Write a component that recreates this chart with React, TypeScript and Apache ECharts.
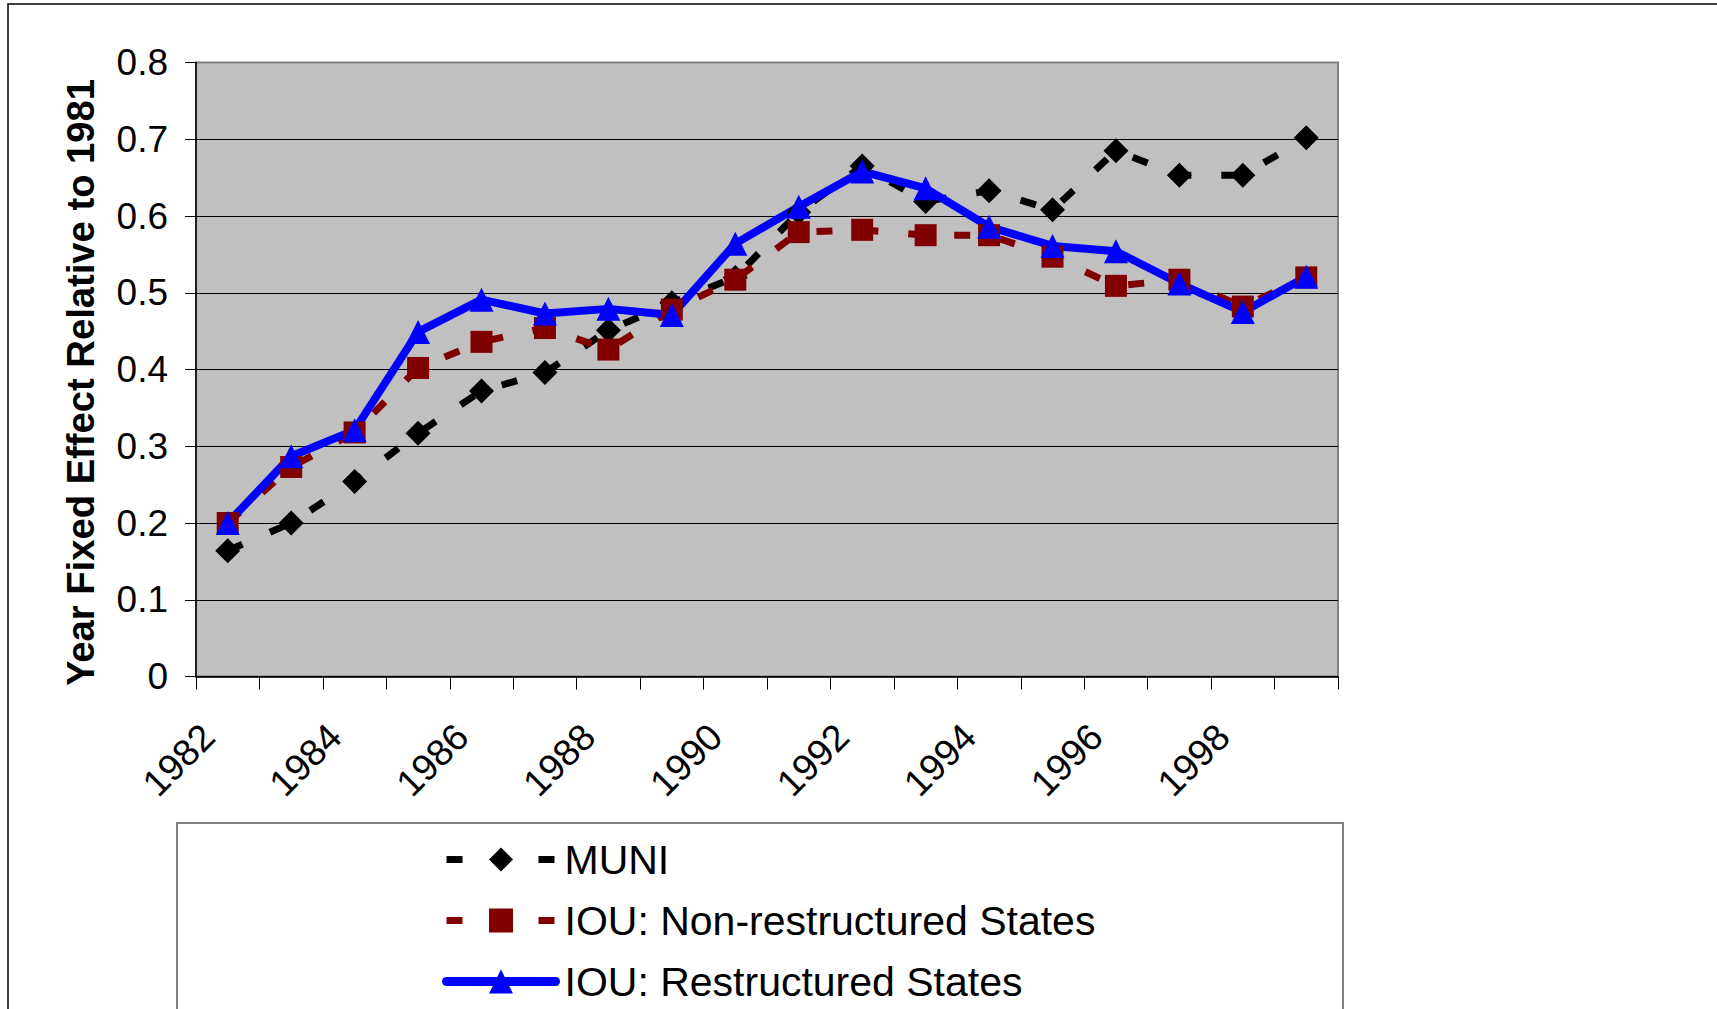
import React, { useEffect, useRef } from 'react';
import * as echarts from 'echarts';

const years = ['1982', '1983', '1984', '1985', '1986', '1987', '1988', '1989', '1990', '1991', '1992', '1993', '1994', '1995', '1996', '1997', '1998', '1999'];
const muni = [0.164, 0.2, 0.254, 0.317, 0.372, 0.396, 0.451, 0.487, 0.52, 0.605, 0.665, 0.619, 0.633, 0.608, 0.685, 0.653, 0.653, 0.702];
const iouNonRestructured = [0.2, 0.273, 0.318, 0.402, 0.436, 0.454, 0.426, 0.478, 0.517, 0.579, 0.582, 0.575, 0.575, 0.547, 0.509, 0.517, 0.482, 0.52];
const iouRestructured = [0.2, 0.287, 0.321, 0.449, 0.491, 0.473, 0.479, 0.471, 0.564, 0.612, 0.658, 0.636, 0.586, 0.561, 0.554, 0.512, 0.475, 0.521];
const seriesNames = ['MUNI', 'IOU: Non-restructured States', 'IOU: Restructured States'];
const yAxisTitle = 'Year Fixed Effect Relative to 1981';
const yMin = 0;
const yMax = 0.8;
const yStep = 0.1;

const FONT = '"Liberation Sans", Arial, sans-serif';

export default function App() {
  const ref = useRef<HTMLDivElement>(null);

  useEffect(() => {
    if (!ref.current) return;
    const chart = echarts.init(ref.current, null, { renderer: 'svg' });
    chart.setOption({
      animation: false,
      backgroundColor: '#ffffff',
      graphic: [
        {
          type: 'rect',
          silent: true,
          z: -10,
          shape: { x: 8, y: 4, width: 2000, height: 2000 },
          style: { fill: 'none', stroke: '#000000', lineWidth: 1.5 },
        },
        {
          type: 'rect',
          silent: true,
          z: -5,
          shape: { x: 177, y: 823, width: 1166, height: 400 },
          style: { fill: '#ffffff', stroke: '#808080', lineWidth: 2 },
        },
      ],
      grid: {
        left: 196,
        top: 62.5,
        width: 1142,
        height: 614,
        show: true,
        backgroundColor: '#c0c0c0',
        borderColor: '#808080',
        borderWidth: 2,
      },
      legend: {
        orient: 'vertical',
        left: 437,
        top: 834,
        itemWidth: 109,
        itemHeight: 30,
        itemGap: 20,
        selectedMode: false,
        textStyle: { fontSize: 41, color: '#000000', fontFamily: FONT, lineHeight: 41, padding: [0, 0, 0, 4] },
        data: [
          { name: seriesNames[0], lineStyle: { width: 7 } },
          { name: seriesNames[1], lineStyle: { width: 7 } },
          { name: seriesNames[2], lineStyle: { width: 9 } },
        ],
      },
      xAxis: {
        type: 'category',
        data: years,
        boundaryGap: true,
        axisLine: { show: true, lineStyle: { color: '#000000', width: 1.5 } },
        axisTick: { show: true, interval: 0, length: 13, lineStyle: { color: '#000000', width: 1 } },
        axisLabel: {
          interval: 1,
          rotate: 45,
          fontSize: 37.5,
          color: '#000000',
          fontFamily: FONT,
          margin: 34,
          padding: [0, 28, 0, 0],
        },
        splitLine: { show: false },
      },
      yAxis: {
        type: 'value',
        min: yMin,
        max: yMax,
        interval: yStep,
        name: yAxisTitle,
        nameLocation: 'middle',
        nameRotate: 90,
        nameGap: 97,
        nameTextStyle: {
          fontSize: 38.2,
          fontWeight: 'bold',
          color: '#000000',
          fontFamily: FONT,
          padding: [0, 26, 0, 0],
        },
        axisLine: { show: true, lineStyle: { color: '#000000', width: 1.5 } },
        axisTick: { show: true, length: 11, lineStyle: { color: '#000000', width: 1 } },
        axisLabel: { fontSize: 37, color: '#000000', fontFamily: FONT, margin: 28 },
        splitLine: {
          show: true,
          lineStyle: {
            color: ['#000000', '#000000', '#000000', '#000000', '#000000', '#000000', '#000000', '#000000', '#808080'],
            width: 1,
          },
        },
      },
      series: [
        {
          name: seriesNames[0],
          type: 'line',
          data: muni,
          symbol: 'diamond',
          symbolSize: 25,
          showAllSymbol: true,
          lineStyle: { color: '#000000', width: 7, type: [16, 30] },
          itemStyle: { color: '#000000' },
        },
        {
          name: seriesNames[1],
          type: 'line',
          data: iouNonRestructured,
          symbol: 'rect',
          symbolSize: 22,
          showAllSymbol: true,
          lineStyle: { color: '#800000', width: 7, type: [16, 30] },
          itemStyle: { color: '#800000' },
        },
        {
          name: seriesNames[2],
          type: 'line',
          data: iouRestructured,
          symbol: 'triangle',
          symbolSize: 24,
          showAllSymbol: true,
          lineStyle: { color: '#0000ff', width: 8, cap: 'round', join: 'round' },
          itemStyle: { color: '#0000ff' },
        },
      ],
    });
    return () => chart.dispose();
  }, []);

  return (
    <div style={{ position: 'absolute', left: 0, top: 0, width: 1717, height: 1009, overflow: 'hidden', background: '#ffffff' }}>
      <div ref={ref} style={{ width: 1717, height: 1009 }} />
    </div>
  );
}
